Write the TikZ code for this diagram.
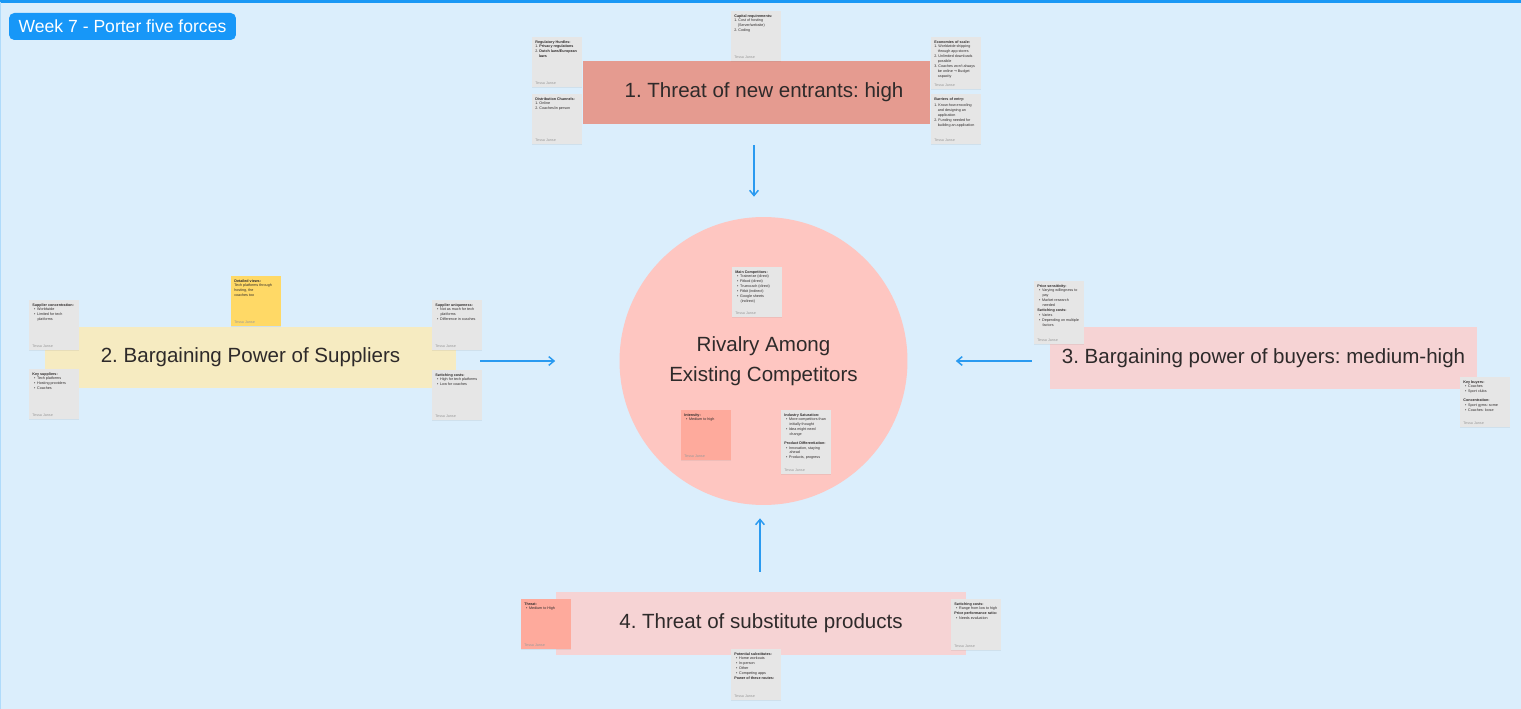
\documentclass[tikz,border=0pt]{standalone}
\usepackage{fontspec}
\setmainfont{Liberation Sans}
\newfontfamily\arrowfont{DejaVu Sans}
\usetikzlibrary{arrows.meta,positioning,shadows}

\definecolor{canvas}{HTML}{DBEEFC}
\definecolor{edgeblue}{HTML}{1A98F5}
\definecolor{tagblue}{HTML}{1797F8}
\definecolor{arrowblue}{HTML}{2A9AF0}
\definecolor{inkgray}{HTML}{2E2A2A}
\definecolor{notegray}{HTML}{E6E6E6}
\definecolor{footgray}{HTML}{9A9A9A}
\definecolor{entrantred}{HTML}{E59B90}
\definecolor{supplyellow}{HTML}{F6EBC1}
\definecolor{buyerpink}{HTML}{F6D3D4}
\definecolor{rivalpink}{HTML}{FEC6C1}
\definecolor{salmon}{HTML}{FEAA9C}
\definecolor{stickyyellow}{HTML}{FFD966}

% text inside a sticky note: height, contents
\newcommand{\sticky}[2]{\parbox[t][#1][t]{0.88cm}{\raggedright #2\par\vfill\textcolor{footgray}{Tessa Janse}}}
\newcommand{\bul}{\hspace*{1pt}\textbullet\hspace{1pt}}
\frenchspacing

\begin{document}
\begin{tikzpicture}[x=0.02cm,y=-0.02cm,>={Straight Barb[length=3pt,width=5pt]}]
        \tikzset{band/.style={rectangle, minimum height=1.25cm, text=inkgray, font=\fontsize{11.7}{17}\selectfont},
        note/.style={rectangle, fill=notegray, anchor=north west, inner sep=0.06cm, text=inkgray,
            font=\fontsize{2.1}{2.8}\selectfont, drop shadow={opacity=0.12, shadow xshift=0pt, shadow yshift=-0.6pt}},
        flow/.style={->, draw=arrowblue, line width=0.85pt}
        }
        \fill[canvas] (0,0) rectangle (1521,709);
        \useasboundingbox (0,0) rectangle (1521,709);
        \draw[edgeblue, line width=1.8pt] (0,1.5) -- (1521,1.5);
        \draw[edgeblue!35, line width=0.6pt] (0.5,2) -- (0.5,709);

        \node [rectangle, fill=tagblue, rounded corners=3pt, minimum width=4.54cm, minimum height=0.54cm,
               text=white, font=\fontsize{10}{12}\selectfont] (weektag) at (122.5,26.5) {Week 7 - Porter five forces};

%% the five forces
        \node [band, fill=entrantred, minimum width=6.94cm, minimum height=1.26cm] (entrants) at (756.5,92.5) {\hspace*{0.3cm}1.~Threat of new entrants: high};
        \node [band, fill=supplyellow, minimum width=8.22cm, minimum height=1.22cm] (suppliers) at (250.5,357.5) {2.~Bargaining Power of Suppliers};
        \node [band, fill=buyerpink, minimum width=8.54cm, minimum height=1.24cm] (buyers) at (1263.5,358) {3.~Bargaining power of buyers: medium-high};
        \node [band, fill=buyerpink, minimum width=8.2cm, minimum height=1.26cm] (substitutes) at (761,623.5) {4.~Threat of substitute products};
        \node [circle, fill=rivalpink, minimum size=5.76cm, align=center, text=inkgray,
               font=\fontsize{11.7}{17}\selectfont] (rivalry) at (763.5,361) {Rivalry Among\\Existing Competitors};

%% sticky notes, threat of new entrants
        \node [note] (reghurdles) at (532,37) {\sticky{0.88cm}{\textbf{Regulatory Hurdles:}\\ 1.~\textbf{Privacy regulations}\\ 2.~\textbf{Dutch laws/European}\\ \hspace*{2pt}\textbf{laws}}};
        \node [note] (distchannels) at (532,94) {\sticky{0.88cm}{\textbf{Distribution Channels:}\\ 1.~Online\\ 2.~Coaches/in person}};
        \node [note] (capitalreq) at (731,11) {\sticky{0.88cm}{\textbf{Capital requirements:}\\ 1.~Cost of hosting\\ \hspace*{2pt}(Server/website)\\ 2.~Coding}};
        \node [note] (scaleeco) at (931,37) {\sticky{0.92cm}{\textbf{Economies of scale:}\\ 1.~Worldwide shipping\\ \hspace*{2pt}through app stores\\ 2.~Unlimited downloads\\ \hspace*{2pt}possible\\ 3.~Coaches won't always\\ \hspace*{2pt}be online {\arrowfont →} Budget\\ \hspace*{2pt}capacity}};
        \node [note] (entrybarriers) at (931,94) {\sticky{0.88cm}{\textbf{Barriers of entry:}\\[1pt] 1.~Know-how encoding\\ \hspace*{2pt}and designing an\\ \hspace*{2pt}application\\ 2.~Funding needed for\\ \hspace*{2pt}building an application}};

%% sticky notes, suppliers
        \node [note] (supplconc) at (29,300) {\sticky{0.88cm}{\textbf{Supplier concentration:}\\ \bul Worldwide\\ \bul Limited for tech\\ \hspace*{3pt}platforms}};
        \node [note] (keysuppl) at (29,369) {\sticky{0.88cm}{\textbf{Key suppliers:}\\ \bul Tech platforms\\ \bul Hosting providers\\ \bul Coaches}};
        \node [note, fill=stickyyellow] (detailviews) at (231,276) {\sticky{0.88cm}{\textbf{Detailed views:}\\ Tech platforms through\\ hosting, the\\ coaches too}};
        \node [note] (suppluniq) at (432,300) {\sticky{0.88cm}{\textbf{Supplier uniqueness:}\\ \bul Not as much for tech\\ \hspace*{3pt}platforms\\ \bul Difference in coaches}};
        \node [note] (supplswitch) at (432,370) {\sticky{0.88cm}{\textbf{Switching costs:}\\ \bul High for tech platforms\\ \bul Low for coaches}};

%% sticky notes, rivalry
        \node [note] (maincomp) at (732,267) {\sticky{0.88cm}{\textbf{Main Competitors:}\\ \bul Trainerize (direct)\\ \bul Fitbod (direct)\\ \bul Truecoach (direct)\\ \bul Fitbit (indirect)\\ \bul Google sheets\\ \hspace*{3pt}(indirect)}};
        \node [note, fill=salmon] (intensity) at (681,410) {\sticky{0.88cm}{\textbf{Intensity:}\\ \bul Medium to high}};
        \node [note] (saturation) at (781,410) {\sticky{1.16cm}{\textbf{Industry Saturation:}\\ \bul More competitors than\\ \hspace*{3pt}initially thought\\ \bul Idea might need\\ \hspace*{3pt}change\\[2pt] \textbf{Product Differentiation:}\\ \bul Innovation, staying\\ \hspace*{3pt}ahead\\ \bul Products, progress}};

%% sticky notes, buyers
        \node [note] (pricesens) at (1034,281) {\sticky{1.14cm}{\textbf{Price sensitivity:}\\ \bul Varying willingness to\\ \hspace*{3pt}pay\\ \bul Market research\\ \hspace*{3pt}needed\\ \textbf{Switching costs:}\\ \bul Varies\\ \bul Depending on multiple\\ \hspace*{3pt}factors}};
        \node [note] (keybuyers) at (1460,377) {\sticky{0.88cm}{\textbf{Key buyers:}\\ \bul Coaches\\ \bul Sport clubs\\[2pt] \textbf{Concentration:}\\ \bul Sport gyms: some\\ \bul Coaches: loose}};

%% sticky notes, substitutes
        \node [note, fill=salmon] (threatlevel) at (521,599) {\sticky{0.88cm}{\textbf{Threat:}\\ \bul Medium to High}};
        \node [note] (substlist) at (731,649) {\sticky{0.9cm}{\textbf{Potential substitutes:}\\ \bul Home workouts\\ \bul In-person\\ \bul Other\\ \bul Competing apps\\ \textbf{Power of these routes:}}};
        \node [note] (substswitch) at (951,599) {\sticky{0.9cm}{\textbf{Switching costs:}\\ \bul Range from low to high\\ \textbf{Price performance ratio:}\\ \bul Needs evaluation}};

%% paths
        \draw[flow, shorten <=0.42cm, shorten >=0.4cm] (entrants.south -| 754,0) -- (rivalry.north -| 754,0);
        \draw[flow, shorten <=0.48cm, shorten >=1.28cm] (rivalry.west -| suppliers.east) -- (rivalry.west);
        \draw[flow, shorten <=0.36cm, shorten >=0.96cm] (rivalry.east -| buyers.west) -- (rivalry.east);
        \draw[flow, shorten <=0.4cm, shorten >=0.26cm] (substitutes.north -| 760,0) -- (rivalry.south -| 760,0);
    \end{tikzpicture}
\end{document}
